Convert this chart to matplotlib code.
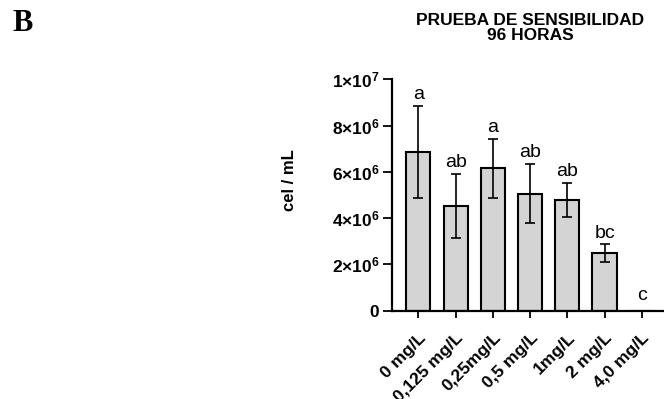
import matplotlib
matplotlib.use("Agg")
import matplotlib.pyplot as plt
import matplotlib.transforms as mtransforms
import numpy as np

categories = ["0 mg/L", "0,125 mg/L", "0,25mg/L", "0,5 mg/L", "1mg/L", "2 mg/L", "4,0 mg/L"]
means = [6.85e6, 4.52e6, 6.15e6, 5.05e6, 4.78e6, 2.49e6, 0.0]
errors = [2.0e6, 1.38e6, 1.28e6, 1.28e6, 0.74e6, 0.38e6, 0.0]
letters = ["a", "ab", "a", "ab", "ab", "bc", "c"]
yticks = [0, 2e6, 4e6, 6e6, 8e6, 1e7]
ytick_labels = ["0", r"$2{\times}10^{6}$", r"$4{\times}10^{6}$",
                r"$6{\times}10^{6}$", r"$8{\times}10^{6}$", r"$1{\times}10^{7}$"]

SANS = ["Liberation Sans", "DejaVu Sans"]
plt.rcParams["font.family"] = SANS
plt.rcParams["mathtext.fontset"] = "custom"
plt.rcParams["mathtext.rm"] = "Liberation Sans:bold"
plt.rcParams["mathtext.it"] = "Liberation Sans:bold"
plt.rcParams["mathtext.bf"] = "Liberation Sans:bold"
plt.rcParams["mathtext.default"] = "rm"

fig = plt.figure(figsize=(6.64, 3.99), dpi=100)
ax = fig.add_axes([0.590, 0.2213, 0.4085, 0.58])

x = np.arange(len(categories))
ax.bar(x, means, width=0.65, color="#d4d4d4", edgecolor="black", linewidth=1.5, zorder=2)
ax.errorbar(x, means, yerr=errors, fmt="none", ecolor="black", elinewidth=1.2,
            capsize=3.8, capthick=1.2, zorder=3)

for xi, m, e, lab in zip(x, means, errors, letters):
    ax.annotate(lab, (xi, m + e), xytext=(0, 2 if e > 0 else 5), textcoords="offset points",
                ha="center", va="bottom", fontsize=14, family=SANS)

ax.set_xlim(-0.715, 6.57)
ax.set_ylim(0, 1e7)
ax.set_yticks(yticks)
ax.set_yticklabels(ytick_labels, fontsize=12.5, fontweight="bold")
ax.set_xticks(x)
ax.set_xticklabels(categories, rotation=45, ha="right", va="top", rotation_mode="anchor",
                   fontsize=12.5, fontweight="bold")
offset = mtransforms.ScaledTranslation(5 / 100, 0, fig.dpi_scale_trans)
for lbl in ax.get_xticklabels():
    lbl.set_transform(lbl.get_transform() + offset)

for s in ["top", "right"]:
    ax.spines[s].set_visible(False)
for s in ["left", "bottom"]:
    ax.spines[s].set_linewidth(1.6)
ax.tick_params(axis="y", length=6.5, width=1.3, pad=2.5)
ax.tick_params(axis="x", length=5, width=1.3, pad=9)

ax.set_ylabel("cel / mL", fontsize=12, fontweight="bold")
ax.yaxis.set_label_coords(-0.35, 0.565)

fig.text(0.798, 0.93, "PRUEBA DE SENSIBILIDAD\n96 HORAS", ha="center", va="center",
         fontsize=12.5, fontweight="bold", linespacing=0.95)
fig.text(0.018, 0.94, "B", ha="left", va="center", fontsize=22, fontweight="bold",
         family=["Liberation Serif", "DejaVu Serif"])

fig.savefig("out.png", dpi=100)
